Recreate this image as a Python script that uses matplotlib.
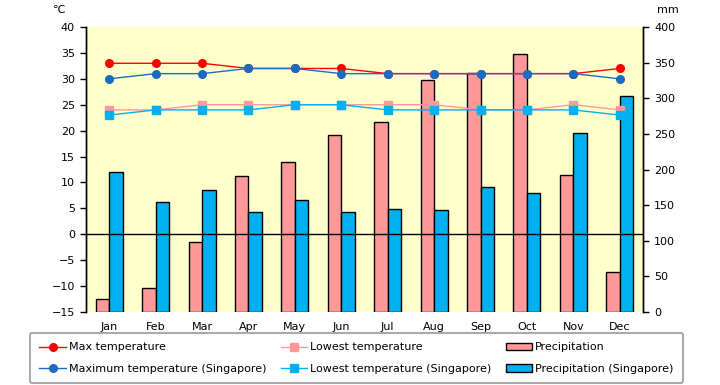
import matplotlib.pyplot as plt
import numpy as np

months = ["Jan", "Feb", "Mar", "Apr", "May", "Jun",
          "Jul", "Aug", "Sep", "Oct", "Nov", "Dec"]

max_temp = [33, 33, 33, 32, 32, 32, 31, 31, 31, 31, 31, 32]
low_temp = [24, 24, 25, 25, 25, 25, 25, 25, 24, 24, 25, 24]
precip = [18, 33, 98, 191, 210, 249, 266, 325, 335, 362, 192, 56]

max_temp_sg = [30, 31, 31, 32, 32, 31, 31, 31, 31, 31, 31, 30]
low_temp_sg = [23, 24, 24, 24, 25, 25, 24, 24, 24, 24, 24, 23]
precip_sg = [197, 154, 171, 140, 157, 140, 144, 143, 176, 167, 251, 303]

plt.rcParams["font.family"] = "DejaVu Sans"
plt.rcParams["font.size"] = 8

fig = plt.figure(figsize=(7.2, 3.85), dpi=100)
ax = fig.add_axes([86 / 720, 1 - 312 / 385, 557 / 720, 285 / 385])
ax.set_facecolor("#FFFFCC")

x = np.arange(len(months))
w = 0.29
b1 = ax.bar(x - w / 2, precip, w, color="#FF9999", edgecolor="black", linewidth=1, zorder=2)
b2 = ax.bar(x + w / 2, precip_sg, w, color="#00B0F0", edgecolor="black", linewidth=1, zorder=2)
ax.set_ylim(0, 400)
ax.set_xlim(-0.5, 11.5)
ax.set_xticks(x)
ax.set_xticklabels(months)
ax.tick_params(axis="x", length=0, pad=7)

axt = ax.twinx()
ax.yaxis.tick_right()
ax.set_yticks(range(0, 401, 50))
axt.yaxis.tick_left()
axt.set_ylim(-15, 40)
axt.set_yticks(range(-15, 41, 5))
axt.axhline(0, color="black", lw=1, zorder=1)

l1, = axt.plot(x, max_temp, color="#FF0000", lw=1, marker="o", ms=5.5, zorder=3)
l3, = axt.plot(x, low_temp, color="#FF9999", lw=1, marker="s", ms=5.5, zorder=3)
l2, = axt.plot(x, max_temp_sg, color="#1A6CC0", lw=1, marker="o", ms=5.5, zorder=4)
l4, = axt.plot(x, low_temp_sg, color="#00B0F0", lw=1, marker="s", ms=5.5, zorder=4)

for a in (ax, axt):
    for s in ("top", "bottom"):
        a.spines[s].set_visible(False)
    a.spines["left"].set_linewidth(1)
    a.spines["right"].set_linewidth(1)
    a.tick_params(axis="y", length=4, width=1, pad=4)

fig.text(59 / 720, 1 - 10 / 385, "℃", ha="center", va="center")
fig.text(668 / 720, 1 - 10 / 385, "mm", ha="center", va="center")

handles = [l1, l2, l3, l4, b1, b2]
labels = ["Max temperature", "Maximum temperature (Singapore)",
          "Lowest temperature", "Lowest temperature (Singapore)",
          "Precipitation", "Precipitation (Singapore)"]
leg = fig.legend(handles, labels, ncol=3, loc="lower left",
                 bbox_to_anchor=(30 / 720, 2 / 385, 653 / 720, 50 / 385),
                 mode="expand", fancybox=True, edgecolor="#AAAAAA",
                 handlelength=2.4, handletextpad=0.25, labelspacing=1.0,
                 borderpad=0.85, borderaxespad=0, framealpha=1)
leg.get_frame().set_linewidth(1.5)

fig.savefig("out.png", dpi=100)
